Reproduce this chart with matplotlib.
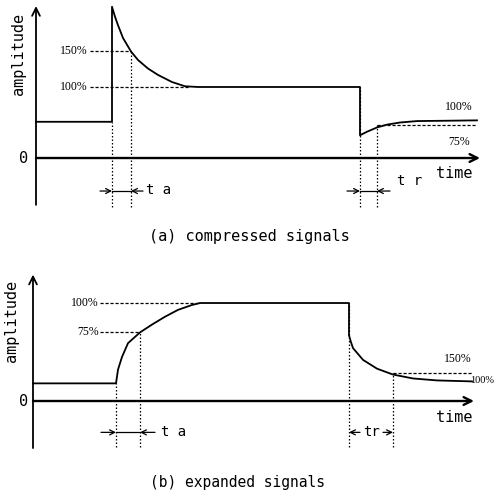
import matplotlib.pyplot as plt

# (a) compressed signals: envelope (time, amplitude; 1.0 = steady level)
t_comp = [0, 76, 76, 79, 82, 87, 95, 102, 112, 122, 136, 149, 162, 324, 324, 331, 341, 351, 364, 381, 441]
amp_comp = [0.51, 0.51, 2.13, 1.99, 1.87, 1.69, 1.50, 1.38, 1.26, 1.17, 1.07, 1.01, 1.00, 1.00,
            0.32, 0.37, 0.43, 0.47, 0.50, 0.52, 0.53]
# marker levels / times
comp_ref_amp = [1.50, 1.00, 0.465]          # 150%, 100%, 75%
comp_ref_t0 = [54, 54, 341]
comp_ref_t1 = [95, 154, 441]
comp_ta = (76, 95)
comp_tr = (324, 341)

# (b) expanded signals
t_exp = [0, 83, 85, 89, 95, 107, 119, 132, 145, 159, 167, 316, 316, 318, 320, 330, 344, 360, 380, 404, 439]
amp_exp = [0.18, 0.18, 0.32, 0.45, 0.59, 0.70, 0.78, 0.86, 0.93, 0.98, 1.00, 1.00,
           0.67, 0.60, 0.54, 0.42, 0.33, 0.27, 0.23, 0.21, 0.20]
exp_ref_amp = [1.00, 0.70, 0.29]            # 100%, 75%, 150%
exp_ref_t0 = [67, 67, 360]
exp_ref_t1 = [167, 107, 439]
exp_ta = (83, 107)
exp_tr = (316, 360)

mono = 'DejaVu Sans Mono'
pct = 'Liberation Serif'

fig = plt.figure(figsize=(4.97, 4.94), dpi=100)
axa = fig.add_axes([0, 249 / 494, 1, 245 / 494])
axb = fig.add_axes([0, 0, 1, 249 / 494])
axa.set_xlim(-36, 461)
axa.set_ylim(-1.225, 2.225)
axb.set_xlim(-33, 464)
axb.set_ylim(-0.949, 1.592)
for ax in (axa, axb):
  ax.axis('off')

arrow = dict(arrowstyle='->', lw=1.3, color='black', shrinkA=0, shrinkB=0, mutation_scale=14)
small = dict(arrowstyle='->', lw=0.9, color='black', shrinkA=0, shrinkB=0, mutation_scale=9)
hdash = (0, (2.5, 1.5))
vdot = (0, (1.2, 1.6))

def panel(ax, t, amp, ref_amp, ref_t0, ref_t1, ta, tr, ybot, ytop, xend, vbot):
  # axes with arrows
  ax.annotate('', xy=(0, ytop), xytext=(0, ybot), arrowprops=arrow)
  ax.annotate('', xy=(xend, 0), xytext=(0, 0), arrowprops=dict(arrow, lw=1.7))
  # signal
  ax.plot(t, amp, color='black', lw=1.3, solid_joinstyle='round')
  # reference levels
  for a, t0, t1 in zip(ref_amp, ref_t0, ref_t1):
    ax.plot([t0, t1], [a, a], color='black', lw=0.9, ls=hdash)
  # vertical markers
  for tv in list(ta) + list(tr):
    i = min(range(len(t)), key=lambda k: abs(t[k] - tv))
    top = amp[i]
    for a, t0, t1 in zip(ref_amp, ref_t0, ref_t1):
      if abs(t1 - tv) < 1 or abs(t0 - tv) < 1:
        top = a
    ax.plot([tv, tv], [vbot, top], color='black', lw=0.9, ls=vdot)

panel(axa, t_comp, amp_comp, comp_ref_amp, comp_ref_t0, comp_ref_t1,
      comp_ta, comp_tr, -0.66, 2.14, 444, -0.69)
panel(axb, t_exp, amp_exp, exp_ref_amp, exp_ref_t0, exp_ref_t1,
      exp_ta, exp_tr, -0.48, 1.29, 441, -0.47)

# attack / release time markers, panel a
y = -0.465
axa.annotate('', xy=(comp_ta[0], y), xytext=(64, y), arrowprops=small)
axa.annotate('', xy=(comp_ta[1], y), xytext=(107, y), arrowprops=small)
axa.plot(comp_ta, [y, y], color='black', lw=0.9)
axa.text(110, -0.45, 't a', fontsize=10, family=mono, va='center', ha='left')
axa.annotate('', xy=(comp_tr[0], y), xytext=(311, y), arrowprops=small)
axa.annotate('', xy=(comp_tr[1], y), xytext=(354, y), arrowprops=small)
axa.plot(comp_tr, [y, y], color='black', lw=0.9)
axa.text(361, -0.325, 't r', fontsize=10, family=mono, va='center', ha='left')

# panel b
y = -0.32
axb.annotate('', xy=(exp_ta[0], y), xytext=(68, y), arrowprops=small)
axb.annotate('', xy=(exp_ta[1], y), xytext=(122, y), arrowprops=small)
axb.plot(exp_ta, [y, y], color='black', lw=0.9)
axb.text(128, -0.316, 't a', fontsize=10, family=mono, va='center', ha='left')
axb.annotate('', xy=(exp_tr[0], y), xytext=(327, y), arrowprops=small)
axb.annotate('', xy=(exp_tr[1], y), xytext=(350, y), arrowprops=small)
axb.text(338.5, y, 'tr', fontsize=10, family=mono, va='center', ha='center')

# labels
for ax, xa, ya, x0, xt, yt in ((axa, -17.5, 1.47, -12, 418.5, -0.225),
                               (axb, -21, 0.82, -9, 421.5, -0.17)):
  ax.text(xa, ya, 'amplitude', rotation=90, fontsize=11, family=mono, ha='center', va='center')
  ax.text(x0, 0, '0', fontsize=11, family=mono, ha='center', va='center')
  ax.text(xt, yt, 'time', fontsize=11, family=mono, ha='center', va='center')

axa.text(52, 1.50, '150%', fontsize=8.5, family=pct, ha='right', va='center')
axa.text(52, 1.00, '100%', fontsize=8.5, family=pct, ha='right', va='center')
axa.text(409, 0.72, '100%', fontsize=8.5, family=pct, ha='left', va='center')
axa.text(412, 0.225, '75%', fontsize=8.5, family=pct, ha='left', va='center')

axb.text(66, 1.00, '100%', fontsize=8.5, family=pct, ha='right', va='center')
axb.text(66, 0.70, '75%', fontsize=8.5, family=pct, ha='right', va='center')
axb.text(439, 0.43, '150%', fontsize=8.5, family=pct, ha='right', va='center')
axb.text(461.5, 0.21, '100%', fontsize=7.5, family=pct, ha='right', va='center')

fig.text(0.502, 0.522, '(a) compressed signals', fontsize=11, family=mono, ha='center', va='center')
fig.text(0.477, 0.024, '(b) expanded signals', fontsize=10.5, family=mono, ha='center', va='center')

fig.savefig('out.png', dpi=100)
